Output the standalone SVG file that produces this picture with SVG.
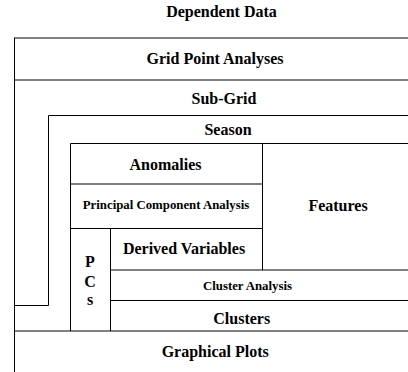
<svg xmlns="http://www.w3.org/2000/svg" width="408" height="372" viewBox="0 0 408 372">
  <style>
    .bg { fill: #ffffff; }
    .h { stroke: #000000; stroke-width: 1; fill: none; shape-rendering: auto; }
    .v { stroke: #000000; stroke-width: 1; fill: none; }
    .lbl { font-family: "Liberation Serif", "Times New Roman", serif; font-weight: bold; font-size: 16px; fill: #000000; text-anchor: middle; }
    .sm { font-size: 12.8px; }
  </style>
  <rect class="bg" x="0" y="0" width="408" height="372"/>

  <!-- Title above the stack -->
  <g id="dependent-data">
    <text class="lbl" x="221.5" y="17">Dependent Data</text>
  </g>

  <!-- Outer frame: grid point analyses band -->
  <g id="grid-point-analyses">
    <line class="h" x1="14" y1="38" x2="408" y2="38"/>
    <line class="v" x1="14.5" y1="38" x2="14.5" y2="372"/>
    <line class="h" x1="14" y1="80" x2="408" y2="80"/>
    <text class="lbl" x="215" y="63.5">Grid Point Analyses</text>
  </g>

  <!-- Sub-grid layer wrapping the season block -->
  <g id="sub-grid">
    <text class="lbl" x="224" y="103.5">Sub-Grid</text>
    <polyline class="v" points="408,115.5 48.5,115.5 48.5,305.5 14,305.5"/>
  </g>

  <g id="season">
    <text class="lbl" x="228" y="135">Season</text>
    <polyline class="v" points="408,143.5 70.5,143.5 70.5,331"/>
  </g>

  <g id="anomalies">
    <text class="lbl" x="165.5" y="170">Anomalies</text>
    <line class="h" x1="70.5" y1="184" x2="262.5" y2="184"/>
  </g>

  <g id="principal-component-analysis">
    <text class="lbl sm" x="166" y="208.5">Principal Component Analysis</text>
    <line class="h" x1="70.5" y1="228.5" x2="262.5" y2="228.5"/>
  </g>

  <g id="features">
    <line class="v" x1="262.5" y1="143.5" x2="262.5" y2="270"/>
    <text class="lbl" x="338" y="211">Features</text>
  </g>

  <g id="pcs">
    <line class="v" x1="110.5" y1="228.5" x2="110.5" y2="331"/>
    <text class="lbl" x="90" y="266.5">P</text>
    <text class="lbl" x="90" y="286.5">C</text>
    <text class="lbl" x="90" y="304.5">s</text>
  </g>

  <g id="derived-variables">
    <text class="lbl" x="184" y="254">Derived Variables</text>
    <line class="h" x1="110.5" y1="270" x2="408" y2="270"/>
  </g>

  <g id="cluster-analysis">
    <text class="lbl sm" x="247.5" y="290">Cluster Analysis</text>
    <line class="h" x1="110.5" y1="300.5" x2="408" y2="300.5"/>
  </g>

  <g id="clusters">
    <text class="lbl" x="241.7" y="323.5">Clusters</text>
    <line class="h" x1="14" y1="331" x2="408" y2="331"/>
  </g>

  <g id="graphical-plots">
    <text class="lbl" x="215.2" y="356.5">Graphical Plots</text>
  </g>
</svg>
